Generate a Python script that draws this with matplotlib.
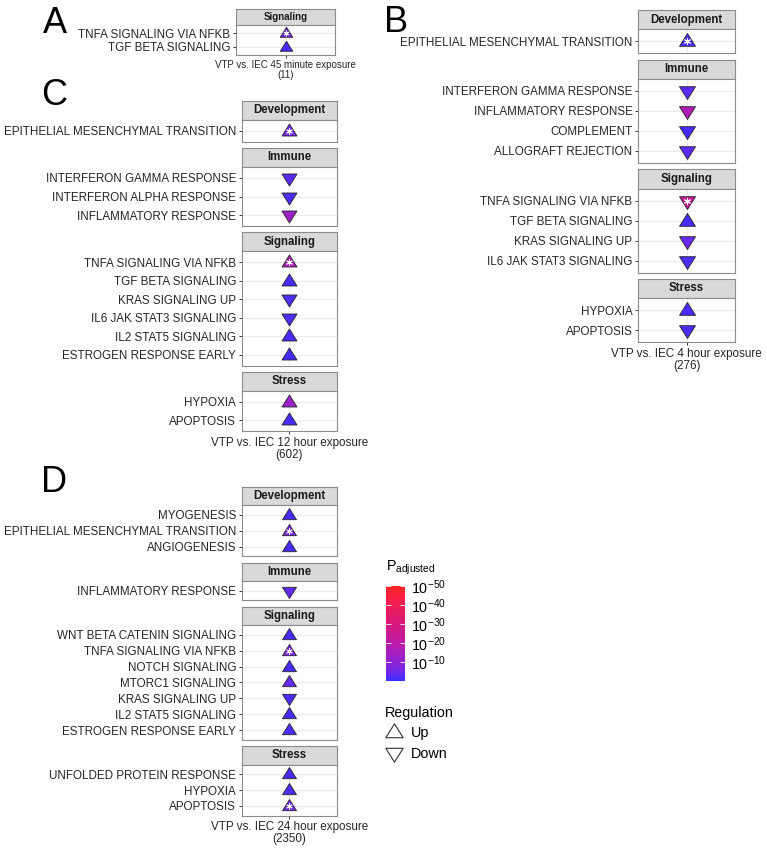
import matplotlib
matplotlib.use("Agg")
import matplotlib.pyplot as plt
import numpy as np
from matplotlib.cm import ScalarMappable
from matplotlib.colors import LinearSegmentedColormap, Normalize, to_rgb
from matplotlib.lines import Line2D
from matplotlib.path import Path

plt.rcParams["font.family"] = ["Liberation Sans", "DejaVu Sans"]
plt.rcParams["mathtext.fontset"] = "custom"
plt.rcParams["mathtext.rm"] = "Liberation Sans"
plt.rcParams["mathtext.default"] = "regular"

GROUPS = ["Development", "Immune", "Signaling", "Stress"]

# A: 45 minute exposure
a_group = ["Signaling", "Signaling"]
a_term = ["TNFA SIGNALING VIA NFKB", "TGF BETA SIGNALING"]
a_dir = ["Up", "Up"]
a_logp = [5, 1.5]
a_star = [True, False]
a_label = "VTP vs. IEC 45 minute exposure\n(11)"

# B: 4 hour exposure
b_group = ["Development", "Immune", "Immune", "Immune", "Immune",
           "Signaling", "Signaling", "Signaling", "Signaling", "Stress", "Stress"]
b_term = ["EPITHELIAL MESENCHYMAL TRANSITION", "INTERFERON GAMMA RESPONSE",
          "INFLAMMATORY RESPONSE", "COMPLEMENT", "ALLOGRAFT REJECTION",
          "TNFA SIGNALING VIA NFKB", "TGF BETA SIGNALING", "KRAS SIGNALING UP",
          "IL6 JAK STAT3 SIGNALING", "HYPOXIA", "APOPTOSIS"]
b_dir = ["Up", "Down", "Down", "Down", "Down", "Down", "Up", "Down", "Down", "Up", "Down"]
b_logp = [2, 3, 17, 1.5, 3, 24, 1.5, 4.5, 2, 1.5, 2]
b_star = [True, False, False, False, False, True, False, False, False, False, False]
b_label = "VTP vs. IEC 4 hour exposure\n(276)"

# C: 12 hour exposure
c_group = ["Development", "Immune", "Immune", "Immune",
           "Signaling", "Signaling", "Signaling", "Signaling", "Signaling", "Signaling",
           "Stress", "Stress"]
c_term = ["EPITHELIAL MESENCHYMAL TRANSITION", "INTERFERON GAMMA RESPONSE",
          "INTERFERON ALPHA RESPONSE", "INFLAMMATORY RESPONSE",
          "TNFA SIGNALING VIA NFKB", "TGF BETA SIGNALING", "KRAS SIGNALING UP",
          "IL6 JAK STAT3 SIGNALING", "IL2 STAT5 SIGNALING", "ESTROGEN RESPONSE EARLY",
          "HYPOXIA", "APOPTOSIS"]
c_dir = ["Up", "Down", "Down", "Down", "Up", "Up", "Down", "Down", "Up", "Up", "Up", "Up"]
c_logp = [6, 3, 2, 13, 16, 1.5, 2, 2, 1.5, 1.5, 12, 1.5]
c_star = [True, False, False, False, True, False, False, False, False, False, False, False]
c_label = "VTP vs. IEC 12 hour exposure\n(602)"

# D: 24 hour exposure
d_group = ["Development", "Development", "Development", "Immune",
           "Signaling", "Signaling", "Signaling", "Signaling", "Signaling",
           "Signaling", "Signaling", "Stress", "Stress", "Stress"]
d_term = ["MYOGENESIS", "EPITHELIAL MESENCHYMAL TRANSITION", "ANGIOGENESIS",
          "INFLAMMATORY RESPONSE", "WNT BETA CATENIN SIGNALING", "TNFA SIGNALING VIA NFKB",
          "NOTCH SIGNALING", "MTORC1 SIGNALING", "KRAS SIGNALING UP", "IL2 STAT5 SIGNALING",
          "ESTROGEN RESPONSE EARLY", "UNFOLDED PROTEIN RESPONSE", "HYPOXIA", "APOPTOSIS"]
d_dir = ["Up", "Up", "Up", "Down", "Up", "Up", "Up", "Up", "Down", "Up", "Up", "Up", "Up", "Up"]
d_logp = [1.5, 7, 1.5, 4, 1.5, 8, 1.5, 4, 2, 1.5, 2, 1.5, 2, 5]
d_star = [False, True, False, False, False, True, False, False, False, False, False,
          False, False, True]
d_label = "VTP vs. IEC 24 hour exposure\n(2350)"

cbar_ticks = [10, 20, 30, 40, 50]
cbar_labels = [r"$10^{-10}$", r"$10^{-20}$", r"$10^{-30}$", r"$10^{-40}$", r"$10^{-50}$"]

W, H = 767, 851
fig = plt.figure(figsize=(W / 100, H / 100), dpi=100)

M = np.array([[0.4124, 0.3576, 0.1805],
              [0.2126, 0.7152, 0.0722],
              [0.0193, 0.1192, 0.9505]])
WHITE = np.array([0.95047, 1.0, 1.08883])


def to_lab(c):
    rgb = np.array(to_rgb(c))
    lin = np.where(rgb <= 0.04045, rgb / 12.92, ((rgb + 0.055) / 1.055) ** 2.4)
    xyz = M @ lin / WHITE
    f = np.where(xyz > 0.008856, np.cbrt(xyz), 7.787 * xyz + 16 / 116)
    return np.array([116 * f[1] - 16, 500 * (f[0] - f[1]), 200 * (f[1] - f[2])])


def from_lab(lab):
    fy = (lab[0] + 16) / 116
    f = np.array([fy + lab[1] / 500, fy, fy - lab[2] / 200])
    xyz = np.where(f ** 3 > 0.008856, f ** 3, (f - 16 / 116) / 7.787) * WHITE
    lin = np.clip(np.linalg.solve(M, xyz), 0, 1)
    rgb = np.where(lin <= 0.0031308, 12.92 * lin, 1.055 * lin ** (1 / 2.4) - 0.055)
    return np.clip(rgb, 0, 1)


lo, hi = to_lab("#2E2EFF"), to_lab("#FF2424")
cmap = LinearSegmentedColormap.from_list(
    "bluered", [from_lab(lo + t * (hi - lo)) for t in np.linspace(0, 1, 64)])
norm = Normalize(0, 50)

tri_up = Path([(-1, -0.6), (1, -0.6), (0, 1.0), (-1, -0.6)],
              [Path.MOVETO, Path.LINETO, Path.LINETO, Path.CLOSEPOLY])
tri_down = Path([(-1, 0.6), (1, 0.6), (0, -1.0), (-1, 0.6)],
                [Path.MOVETO, Path.LINETO, Path.LINETO, Path.CLOSEPOLY])


def px(x, y, w, h):
    return [x / W, 1 - (y + h) / H, w / W, h / H]


def draw_panel(group, term, direction, logp, star, xlabel, left, right, top, unit,
               strip_h, gap, strip_fs, xlab_fs, ms_px):
    present = [g for g in GROUPS if g in group]
    y = top
    width = right - left
    ms = ms_px * 0.72
    for k, g in enumerate(present):
        idx = [i for i, gg in enumerate(group) if gg == g]
        n = len(idx)
        sax = fig.add_axes(px(left, y, width, strip_h))
        sax.set_facecolor("#D9D9D9")
        sax.set_xticks([])
        sax.set_yticks([])
        for sp in sax.spines.values():
            sp.set_color("#8C8C8C")
            sp.set_linewidth(0.8)
        sax.text(0.5, 0.5, g, ha="center", va="center", fontsize=strip_fs,
                 fontweight="bold", color="#1A1A1A", transform=sax.transAxes)
        y += strip_h
        h = (n - 1 + 1.2) * unit
        ax = fig.add_axes(px(left, y, width, h))
        ax.set_xlim(-0.6, 0.6)
        ax.set_ylim(n - 1 + 0.6, -0.6)
        ax.set_axisbelow(True)
        ax.grid(True, color="#EBEBEB", linewidth=0.8)
        for sp in ax.spines.values():
            sp.set_color("#8C8C8C")
            sp.set_linewidth(0.8)
        for row, i in enumerate(idx):
            mk = tri_up if direction[i] == "Up" else tri_down
            ax.scatter([0], [row], marker=mk, s=ms ** 2, c=[logp[i]], cmap=cmap,
                       norm=norm, edgecolors="#222222", linewidths=0.6, zorder=3)
            if star[i]:
                ax.scatter([0], [row], marker=(6, 2, 0), s=(ms * 0.4) ** 2,
                           color="white", linewidths=0.7, zorder=4)
        ax.set_yticks(range(n))
        ax.set_yticklabels([term[i] for i in idx], fontsize=8.4, color="#262626")
        ax.tick_params(axis="y", length=2.5, width=0.7, color="#333333", pad=1.5)
        ax.set_xticks([0])
        if k == len(present) - 1:
            ax.set_xticklabels([xlabel], fontsize=xlab_fs, color="#262626",
                               linespacing=1.0)
            ax.tick_params(axis="x", length=2.5, width=0.7, color="#333333", pad=1.5)
        else:
            ax.tick_params(axis="x", length=0, labelbottom=False)
        y += h + gap


draw_panel(a_group, a_term, a_dir, a_logp, a_star, a_label,
           236, 335, 9.3, 13.6, 15.7, 6, 7, 7, 12.5)
draw_panel(b_group, b_term, b_dir, b_logp, b_star, b_label,
           638, 735, 10, 20, 19.3, 6.3, 8.3, 8.4, 16)
draw_panel(c_group, c_term, c_dir, c_logp, c_star, c_label,
           241.7, 337, 100.7, 18.5, 19, 6, 8.3, 8.4, 15)
draw_panel(d_group, d_term, d_dir, d_logp, d_star, d_label,
           241.7, 336.7, 486.7, 15.9, 18.5, 6.5, 8.3, 8.4, 14)

for letter, x, yb in [("A", 43, 33), ("B", 384, 32), ("C", 41, 105), ("D", 41, 492)]:
    fig.text(x / W, 1 - yb / H, letter, fontsize=26, va="baseline", ha="left")

# colour bar legend
cax = fig.add_axes(px(386, 586, 19, 95))
cb = fig.colorbar(ScalarMappable(norm=norm, cmap=cmap), cax=cax)
cb.outline.set_visible(False)
cb.set_ticks(cbar_ticks)
cb.set_ticklabels(cbar_labels)
cax.yaxis.set_ticks_position("both")
cax.tick_params(axis="y", direction="in", color="white", length=3.5, width=0.6,
                labelsize=10.4, labelright=True, labelleft=False, pad=4)
fig.text(386 / W, 1 - 571 / H, r"P$_{adjusted}$", fontsize=10.4, va="baseline",
         ha="left")

# regulation legend
handles = [Line2D([], [], linestyle="none", marker=tri_up, markersize=12.5,
                  markerfacecolor="none", markeredgecolor="#333333", markeredgewidth=0.8),
           Line2D([], [], linestyle="none", marker=tri_down, markersize=12.5,
                  markerfacecolor="none", markeredgecolor="#333333", markeredgewidth=0.8)]
fig.legend(handles, ["Up", "Down"], title="Regulation", loc="upper left",
           bbox_to_anchor=(382 / W, 1 - 703 / H), frameon=False, fontsize=10.4,
           title_fontsize=10.4, alignment="left", handlelength=1.3, handletextpad=0.5,
           labelspacing=0.45, borderaxespad=0, borderpad=0.2)

fig.savefig("out.png", dpi=100)
